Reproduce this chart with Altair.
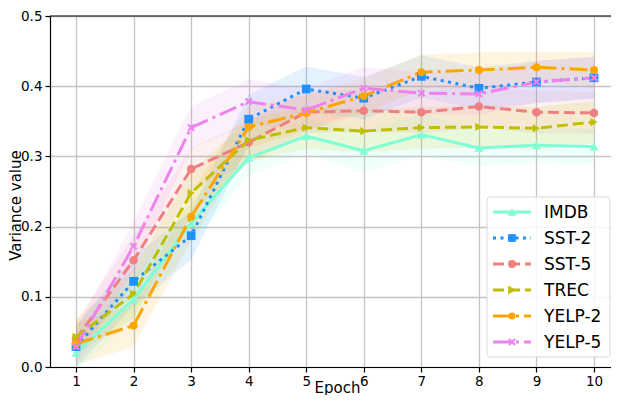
import altair as alt
import pandas as pd

epochs = [1, 2, 3, 4, 5, 6, 7, 8, 9, 10]
series_names = ["IMDB", "SST-2", "SST-5", "TREC", "YELP-2", "YELP-5"]

imdb = [0.020, 0.096, 0.205, 0.298, 0.329, 0.308, 0.331, 0.312, 0.316, 0.314]
sst2 = [0.029, 0.122, 0.187, 0.353, 0.396, 0.383, 0.414, 0.397, 0.406, 0.412]
sst5 = [0.040, 0.152, 0.282, 0.320, 0.363, 0.365, 0.363, 0.371, 0.363, 0.362]
trec = [0.043, 0.104, 0.248, 0.323, 0.341, 0.336, 0.341, 0.342, 0.340, 0.349]
yelp2 = [0.033, 0.059, 0.214, 0.342, 0.362, 0.386, 0.420, 0.423, 0.427, 0.423]
yelp5 = [0.029, 0.172, 0.341, 0.378, 0.366, 0.397, 0.390, 0.389, 0.406, 0.412]

imdb_sd = [0.025, 0.030, 0.030, 0.025, 0.025, 0.030, 0.030, 0.025, 0.025, 0.025]
sst2_sd = [0.030, 0.035, 0.035, 0.035, 0.032, 0.030, 0.030, 0.030, 0.030, 0.030]
sst5_sd = [0.025, 0.035, 0.030, 0.030, 0.030, 0.030, 0.030, 0.030, 0.030, 0.030]
trec_sd = [0.025, 0.035, 0.030, 0.030, 0.030, 0.030, 0.030, 0.030, 0.030, 0.030]
yelp2_sd = [0.030, 0.030, 0.035, 0.030, 0.025, 0.025, 0.025, 0.025, 0.022, 0.025]
yelp5_sd = [0.025, 0.035, 0.030, 0.032, 0.030, 0.030, 0.030, 0.030, 0.030, 0.030]

colors = ["#7fffd4", "#1e90ff", "#f08080", "#bfbf00", "#ffa500", "#ee82ee"]
dashes = [[1, 0], [3, 4.5], [11, 5], [11, 5], [18, 5, 3, 5], [18, 5, 3, 5]]
xpath = "M-1,-0.6L-0.6,-1L0,-0.4L0.6,-1L1,-0.6L0.4,0L1,0.6L0.6,1L0,0.4L-0.6,1L-1,0.6L-0.4,0Z"
shapes = ["triangle-up", "square", "circle", "triangle-right", "circle", xpath]
sizes = [80, 60, 64, 80, 50, 60]

means = [imdb, sst2, sst5, trec, yelp2, yelp5]
sds = [imdb_sd, sst2_sd, sst5_sd, trec_sd, yelp2_sd, yelp5_sd]

rows = []
for name, m, s in zip(series_names, means, sds):
    for e, v, d in zip(epochs, m, s):
        rows.append({"epoch": e, "value": v, "lo": v - d, "hi": v + d, "series": name})
df = pd.DataFrame(rows)

W, H = 561, 351
xscale = alt.Scale(domain=[0.548, 10.295], nice=False, zero=False)
yscale = alt.Scale(domain=[0, 0.5], nice=False)
cscale = alt.Scale(domain=series_names, range=colors)

base = alt.Chart(df)
x_enc = alt.X("epoch:Q", scale=xscale,
              axis=alt.Axis(values=epochs, format="d", title="Epoch", titleX=287, titleY=25,
                            titleBaseline="alphabetic", titleAlign="center",
                            labelPadding=2))
y_enc = alt.Y("value:Q", scale=yscale,
              axis=alt.Axis(values=[0, 0.1, 0.2, 0.3, 0.4, 0.5], format=".1f", title="Variance value",
                            titleX=-29.5, titleY=189, titleBaseline="alphabetic", titleAlign="center",
                            titleAngle=270))

areas = base.mark_area(opacity=0.12, clip=True).encode(
    x=x_enc,
    y=alt.Y("lo:Q", scale=yscale, title="Variance value"),
    y2="hi:Q",
    color=alt.Color("series:N", scale=cscale, legend=None),
    detail="series:N",
)

lines = base.mark_line(strokeWidth=3, clip=True).encode(
    x=x_enc,
    y=y_enc,
    color=alt.Color("series:N", scale=cscale, legend=None),
    strokeDash=alt.StrokeDash("series:N", scale=alt.Scale(domain=series_names, range=dashes), legend=None),
)

points = base.mark_point(filled=True, opacity=1, clip=True).encode(
    x=x_enc,
    y=y_enc,
    color=alt.Color("series:N", scale=cscale, legend=None),
    shape=alt.Shape("series:N", scale=alt.Scale(domain=series_names, range=shapes), legend=None),
    size=alt.Size("series:N", scale=alt.Scale(domain=series_names, range=sizes), legend=None),
)

one = pd.DataFrame({"k": [0]})
top_spine = alt.Chart(one).mark_rule(color="black", strokeWidth=1.2).encode(
    x=alt.value(0), x2=alt.value(W), y=alt.value(0))

# legend
lx0, ly0 = 437, 181
legend_layers = [
    alt.Chart(one).mark_rect(fill="white", fillOpacity=0.85, stroke="#d8d8d8", strokeWidth=1,
                             cornerRadius=3).encode(
        x=alt.value(lx0), x2=alt.value(560), y=alt.value(ly0), y2=alt.value(341))
]
for i, name in enumerate(series_names):
    yy = ly0 + 15 + i * 26
    d1 = pd.DataFrame({"n": [name]})
    legend_layers.append(alt.Chart(d1).mark_rule(stroke=colors[i], strokeWidth=3, strokeDash=dashes[i]).encode(
        x=alt.value(lx0 + 6), x2=alt.value(lx0 + 44), y=alt.value(yy)))
    legend_layers.append(alt.Chart(d1).mark_point(filled=True, opacity=1, color=colors[i], shape=shapes[i],
                                                  size=sizes[i]).encode(
        x=alt.value(lx0 + 25), y=alt.value(yy)))
    legend_layers.append(alt.Chart(d1).mark_text(align="left", baseline="middle", fontSize=17,
                                                 font="DejaVu Sans", color="black").encode(
        x=alt.value(lx0 + 57), y=alt.value(yy + 1), text="n:N"))

chart = alt.layer(areas, lines, points, top_spine, *legend_layers).properties(
    width=W, height=H,
    autosize=alt.AutoSizeParams(type="none"),
    padding={"left": 42, "top": 8, "right": 0, "bottom": 28},
).configure_view(stroke=None).configure_axis(
    labelFont="DejaVu Sans", titleFont="DejaVu Sans", labelFontSize=13.5, titleFontSize=15,
    titleFontWeight="normal", labelColor="black", titleColor="black",
    domainColor="black", domainWidth=1.2, tickColor="black", tickSize=5, tickWidth=1.2,
    gridColor="#c4c4c4", gridWidth=1.3, labelPadding=3,
)

chart.save("out.html", embed_options={"renderer": "svg", "actions": False})
